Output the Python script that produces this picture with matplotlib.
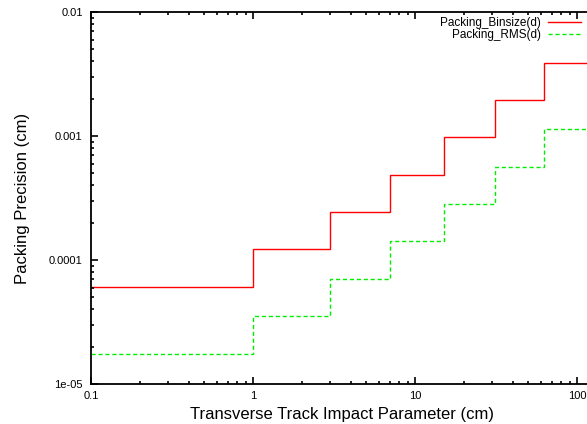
import matplotlib
matplotlib.use("Agg")
import matplotlib.pyplot as plt
from matplotlib.ticker import LogLocator, FixedLocator, FixedFormatter, NullFormatter

plt.rcParams['font.family'] = ['Liberation Sans', 'DejaVu Sans']

# data
edges = [0.1, 1, 3, 7, 15, 31, 63, 1000]
binsize = [6.1e-5, 1.22e-4, 2.44e-4, 4.88e-4, 9.77e-4, 1.95e-3, 3.91e-3]
rms = [1.76e-5, 3.52e-5, 7.05e-5, 1.41e-4, 2.82e-4, 5.64e-4, 1.13e-3]
xtick_vals = [0.1, 1, 10, 100]
xtick_labels = ["0.1", "1", "10", "100"]
ytick_vals = [1e-5, 1e-4, 1e-3, 1e-2]
ytick_labels = ["1e-05", "0.0001", "0.001", "0.01"]

W, H = 587, 424
fig = plt.figure(figsize=(W / 100, H / 100), dpi=100)
left, right_px = 91, 91 + 4 * 162
top, bottom = 12, 384
ax = fig.add_axes([left / W, (H - bottom) / H, (right_px - left) / W, (bottom - top) / H])

ax.stairs(binsize, edges, color='#ff0000', lw=1.0, baseline=None, label='Packing_Binsize(d)')
ax.stairs(rms, edges, color='#00ee00', lw=1.0, ls=(0, (3, 2)), baseline=None, label='Packing_RMS(d)')

ax.set_xscale('log')
ax.set_yscale('log')
ax.set_xlim(0.1, 1000)
ax.set_ylim(1e-5, 1e-2)

ax.xaxis.set_major_locator(FixedLocator(xtick_vals))
ax.xaxis.set_major_formatter(FixedFormatter(xtick_labels))
ax.yaxis.set_major_locator(FixedLocator(ytick_vals))
ax.yaxis.set_major_formatter(FixedFormatter(ytick_labels))
ax.xaxis.set_minor_locator(LogLocator(base=10, subs=range(2, 10)))
ax.yaxis.set_minor_locator(LogLocator(base=10, subs=range(2, 10)))
ax.xaxis.set_minor_formatter(NullFormatter())
ax.yaxis.set_minor_formatter(NullFormatter())

ax.tick_params(which='both', direction='in', top=True, right=True, labelsize=8, width=1.2, color='black')
ax.tick_params(which='major', length=5)
ax.tick_params(axis='y', which='major', pad=6)
ax.tick_params(axis='x', which='major', pad=5)
ax.tick_params(which='minor', length=2.5)
for s in ax.spines.values():
    s.set_linewidth(1.3)

ax.set_xlabel('Transverse Track Impact Parameter (cm)', fontsize=12)
ax.xaxis.set_label_coords((342 - left) / (right_px - left), -(414 - bottom) / (bottom - top))
ax.xaxis.label.set_va('center')
ax.set_ylabel('Packing Precision (cm)', fontsize=12)
ax.yaxis.set_label_coords(-(left - 23) / (right_px - left), 0.5)
ax.yaxis.label.set_va('center')

leg = fig.legend(loc='upper right', bbox_to_anchor=(581 / W, 1 - 17 / H), markerfirst=False,
                 frameon=False, fontsize=8.5, handlelength=2.8, handletextpad=0.6,
                 labelspacing=0.0, borderpad=0, borderaxespad=0)

fig.savefig('out.png', dpi=100)
